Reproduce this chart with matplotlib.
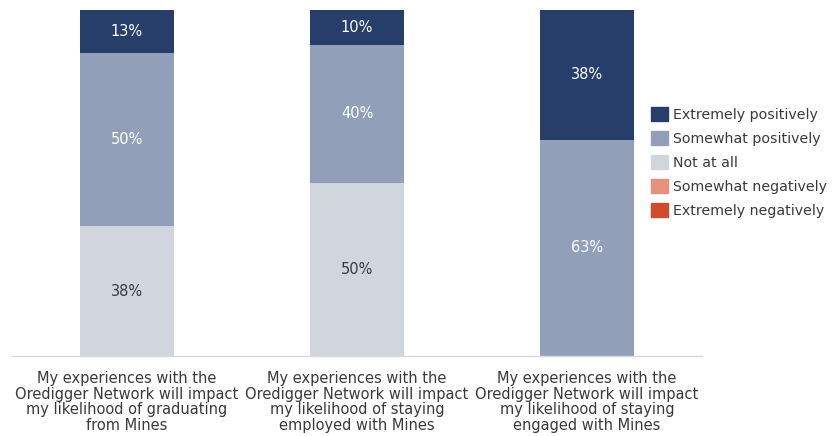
import matplotlib.pyplot as plt
import matplotlib.patches as mpatches
import numpy as np

## Survey data (percent of respondents)
categories = ['My experiences with the\nOredigger Network will impact\nmy likelihood of graduating\nfrom Mines',
              'My experiences with the\nOredigger Network will impact\nmy likelihood of staying\nemployed with Mines',
              'My experiences with the\nOredigger Network will impact\nmy likelihood of staying\nengaged with Mines']

levels = ['Extremely positively', 'Somewhat positively', 'Not at all',
          'Somewhat negatively', 'Extremely negatively']

extremely_pos = [12.5, 10.0, 37.5]
somewhat_pos = [50.0, 40.0, 62.5]
not_at_all = [37.5, 50.0, 0.0]
somewhat_neg = [0.0, 0.0, 0.0]
extremely_neg = [0.0, 0.0, 0.0]

colors = ['#263e69', '#919fb9', '#d0d5de', '#e6917d', '#cf4b2d']
label_colors = ['white', 'white', '#3a3a3a', 'white', 'white']

fig = plt.figure(figsize=(8.39, 4.36), dpi=100)
ax = fig.add_axes([12/839, 80/436, 690/839, 346/436])

x = np.arange(len(categories))
width = 0.405

# stack from the bottom: negatives first, then neutral, then positives
stack = [extremely_neg, somewhat_neg, not_at_all, somewhat_pos, extremely_pos]
stack_colors = colors[::-1]
stack_text = label_colors[::-1]
bottom = np.zeros(len(categories))
for vals, col, tc in zip(stack, stack_colors, stack_text):
    vals = np.array(vals)
    ax.bar(x, vals, width, bottom=bottom, color=col, edgecolor='none')
    for xi, v, b in zip(x, vals, bottom):
        if v > 0:
            ax.text(xi, b + v / 2, '{}%'.format(int(v + 0.5)), ha='center', va='center',
                    color=tc, fontsize=10.5)
    bottom = bottom + vals

ax.set_xlim(-0.5, len(categories) - 0.5)
ax.set_ylim(0, 100)
ax.set_yticks([])
ax.set_xticks(x)
ax.set_xticklabels(categories, fontsize=10.5, color='#3a3a3a', linespacing=1.05)
ax.tick_params(axis='x', length=0, pad=11)
for s in ['top', 'right', 'left']:
    ax.spines[s].set_visible(False)
ax.spines['bottom'].set_color('#d9d9d9')
ax.spines['bottom'].set_linewidth(1)

handles = [mpatches.Patch(color=c, label=l) for c, l in zip(colors, levels)]
leg = fig.legend(handles=handles, loc='upper left', bbox_to_anchor=(645/839, 1 - 101/436),
                 frameon=False, fontsize=10.2, handlelength=1.2, handleheight=1.2,
                 handletextpad=0.35, labelspacing=0.63, borderaxespad=0)
for t in leg.get_texts():
    t.set_color('#3a3a3a')

fig.savefig('out.png', dpi=100)
